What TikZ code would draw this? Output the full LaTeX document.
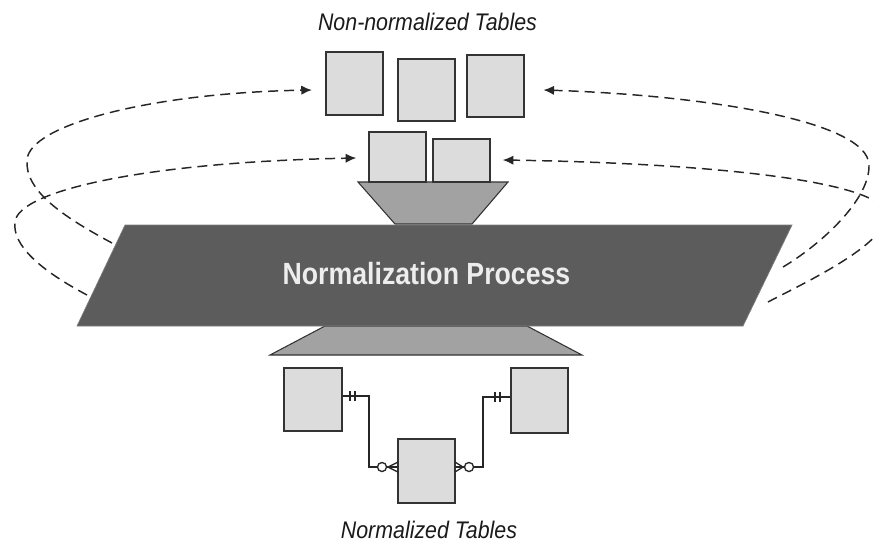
\documentclass[tikz,border=0pt]{standalone}
\usepackage{fontspec}
\setmainfont{Liberation Sans}
\newfontfamily\capfont[FakeStretch=0.89]{Liberation Sans}
\newfontfamily\bigfont[FakeStretch=0.87]{Liberation Sans}
\usetikzlibrary{arrows.meta}
\definecolor{boxfill}{HTML}{DCDCDC}
\definecolor{boxline}{HTML}{333333}
\definecolor{funnel}{HTML}{A2A2A2}
\definecolor{band}{HTML}{5C5C5C}
\definecolor{txtdark}{HTML}{1A1A1A}
\tikzset{
  tbl/.style={draw=boxline, fill=boxfill, line width=1.1pt, inner sep=0pt},
  funnelshape/.style={draw=boxline, fill=funnel, line width=0.8pt},
  bandshape/.style={fill=band, draw=band!80!white, line width=0.5pt},
  loop/.style={dash pattern=on 7.5pt off 4.5pt, line width=1.1pt, black!85,
    -{Latex[length=8pt,width=7pt]}},
  er/.style={line width=1pt, black!85},
  caption/.style={font=\capfont\itshape\fontsize{18}{20}\selectfont, text=txtdark, anchor=base, inner sep=0pt},
}
\begin{document}
\begin{tikzpicture}[x=0.75pt, y=-0.75pt]
\useasboundingbox (0,0) rectangle (874,544);
\clip (0,0) rectangle (874,544);

% captions
\node[caption] (ttop) at (427.5,30) {Non-normalized Tables};
\node[caption] (tbot) at (429,538) {Normalized Tables};

% funnels and band
\draw[funnelshape] (358,182) -- (508,182) -- (472,224) -- (395,224) -- cycle;
\draw[funnelshape] (325,326) -- (527,326) -- (582,355) -- (270,355) -- cycle;
\draw[bandshape] (125,225) -- (792,225) -- (743,326) -- (77,326) -- cycle;
\node[font=\bigfont\bfseries\fontsize{23}{25}\selectfont, text=white!93!black, anchor=base, inner sep=0pt]
  (proc) at (426.5,284) {Normalization Process};

% band anchor points for loops
\coordinate (p1) at (112,243);
\coordinate (p2) at (87,295);
\coordinate (p3) at (783,267);
\coordinate (p4) at (768,302);

% non-normalized tables
\node[tbl, minimum width=42.75pt, minimum height=47.25pt] (t1) at (354.5,83.5) {};
\node[tbl, minimum width=42.75pt, minimum height=46.5pt] (t2) at (426.5,90) {};
\node[tbl, minimum width=42.75pt, minimum height=46.5pt] (t3) at (495.5,86) {};
\node[tbl, minimum width=42.75pt, minimum height=37.5pt] (t4) at (397.5,157) {};
\node[tbl, minimum width=42.75pt, minimum height=32.25pt] (t5) at (461.5,160.5) {};

% normalized tables
\node[tbl, minimum width=43.5pt, minimum height=47.25pt] (bA) at (313,399.5) {};
\node[tbl, minimum width=42.75pt, minimum height=48.75pt] (bB) at (539.5,400.5) {};
\node[tbl, minimum width=42.75pt, minimum height=48pt] (bC) at (426.5,471) {};

% dashed loops
\draw[loop] (p1) .. controls (60,215) and (25,190) .. (27,160)
   .. controls (29,125) and (150,93) .. ([xshift=-10pt]t1.west |- 0,90);
\draw[loop] (p2) .. controls (40,270) and (12,245) .. (15,222)
   .. controls (18,190) and (150,162) .. ([xshift=-9pt]t4.west |- 0,158);
\draw[loop] (p3) .. controls (820,245) and (870,200) .. (869,165)
   .. controls (868,120) and (700,95) .. ([xshift=14pt]t3.east |- 0,90);
\draw[loop] (p4) .. controls (800,285) and (887,245) .. (886,215)
   .. controls (885,180) and (700,163) .. ([xshift=9pt]t5.east |- 0,160);

% ER connectors
\draw[er] ([yshift=2.6pt]bA.east) -| (369,467) -- ([yshift=3pt]bC.west);
\draw[er] ([yshift=2.6pt]bB.west) -| (483,467) -- ([yshift=3pt]bC.east);
% one-and-only-one bars
\draw[er] (350,391) -- (350,401) (355,391) -- (355,401);
\draw[er] (495,392) -- (495,402) (500,392) -- (500,402);
% zero-or-many
\draw[er, fill=white] (382,467) circle[radius=3.4pt];
\draw[er] (388,467) -- (398,462) (388,467) -- (398,467) (388,467) -- (398,472);
\draw[er, fill=white] (469,467) circle[radius=3.4pt];
\draw[er] (463,467) -- (455,462) (463,467) -- (455,467) (463,467) -- (455,472);
\end{tikzpicture}
\end{document}
